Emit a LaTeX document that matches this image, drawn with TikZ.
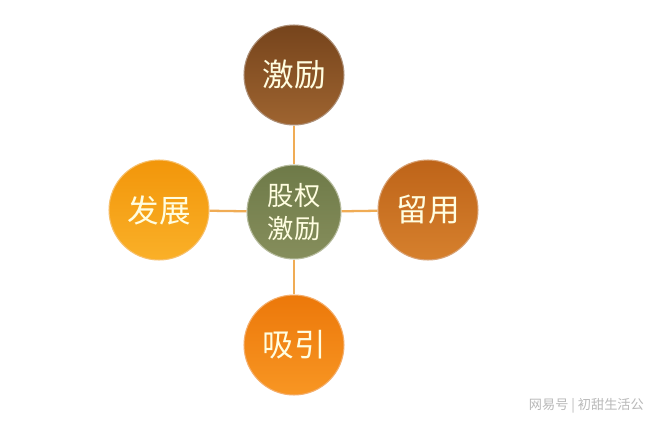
\documentclass[tikz,border=0pt]{standalone}
\usepackage{fontspec}
\usepackage{xcolor}
\newfontfamily\cjk{Noto Sans CJK SC}
\definecolor{linkorange}{RGB}{240,172,85}
\definecolor{topbrownA}{RGB}{118,68,28}
\definecolor{topbrownB}{RGB}{158,100,48}
\definecolor{olivA}{RGB}{110,122,72}
\definecolor{olivB}{RGB}{134,142,92}
\definecolor{leftorA}{RGB}{242,150,10}
\definecolor{leftorB}{RGB}{250,176,40}
\definecolor{rightorA}{RGB}{190,100,25}
\definecolor{rightorB}{RGB}{214,128,45}
\definecolor{botorA}{RGB}{236,120,10}
\definecolor{botorB}{RGB}{248,150,35}
\definecolor{markgray}{RGB}{185,185,185}

\begin{document}
\begin{tikzpicture}[x=0.02cm,y=-0.02cm,
	ball/.style={circle,inner sep=0pt,minimum size=2cm,draw=#1A!60!white,line width=0.6pt,
		top color=#1A,bottom color=#1B,
		text=white!88!yellow,font=\cjk\fontsize{18}{21}\selectfont},
	hub/.style={circle,inner sep=0pt,minimum size=1.88cm,draw=olivB!60!white,line width=0.6pt,
		top color=olivA,bottom color=olivB,
		text=white!88!yellow,font=\cjk\fontsize{15}{19}\selectfont,align=center},
	link/.style={draw=linkorange,line width=1.3pt}]
	\useasboundingbox (0,0) rectangle (660,426);
	\fill[white] (0,0) rectangle (660,426);

	% centre and the four around it
	\node [hub] (core) at (294,212) {股权\\激励};
	\node [ball=topbrown] (jili) at (294,75) {激励};
	\node [ball=leftor] (fazhan) at (159,210) {发展};
	\node [ball=rightor] (liuyong) at (428,210) {留用};
	\node [ball=botor] (xiyin) at (294,345) {吸引};

	% links
	\draw [link] (core) -- (jili);
	\draw [link] (core) -- (fazhan);
	\draw [link] (core) -- (liuyong);
	\draw [link] (core) -- (xiyin);

	\node [text=markgray,font=\cjk\fontsize{7.5}{9}\selectfont,anchor=east] (mark) at (650,406) {网易号 | 初甜生活公};
\end{tikzpicture}
\end{document}
